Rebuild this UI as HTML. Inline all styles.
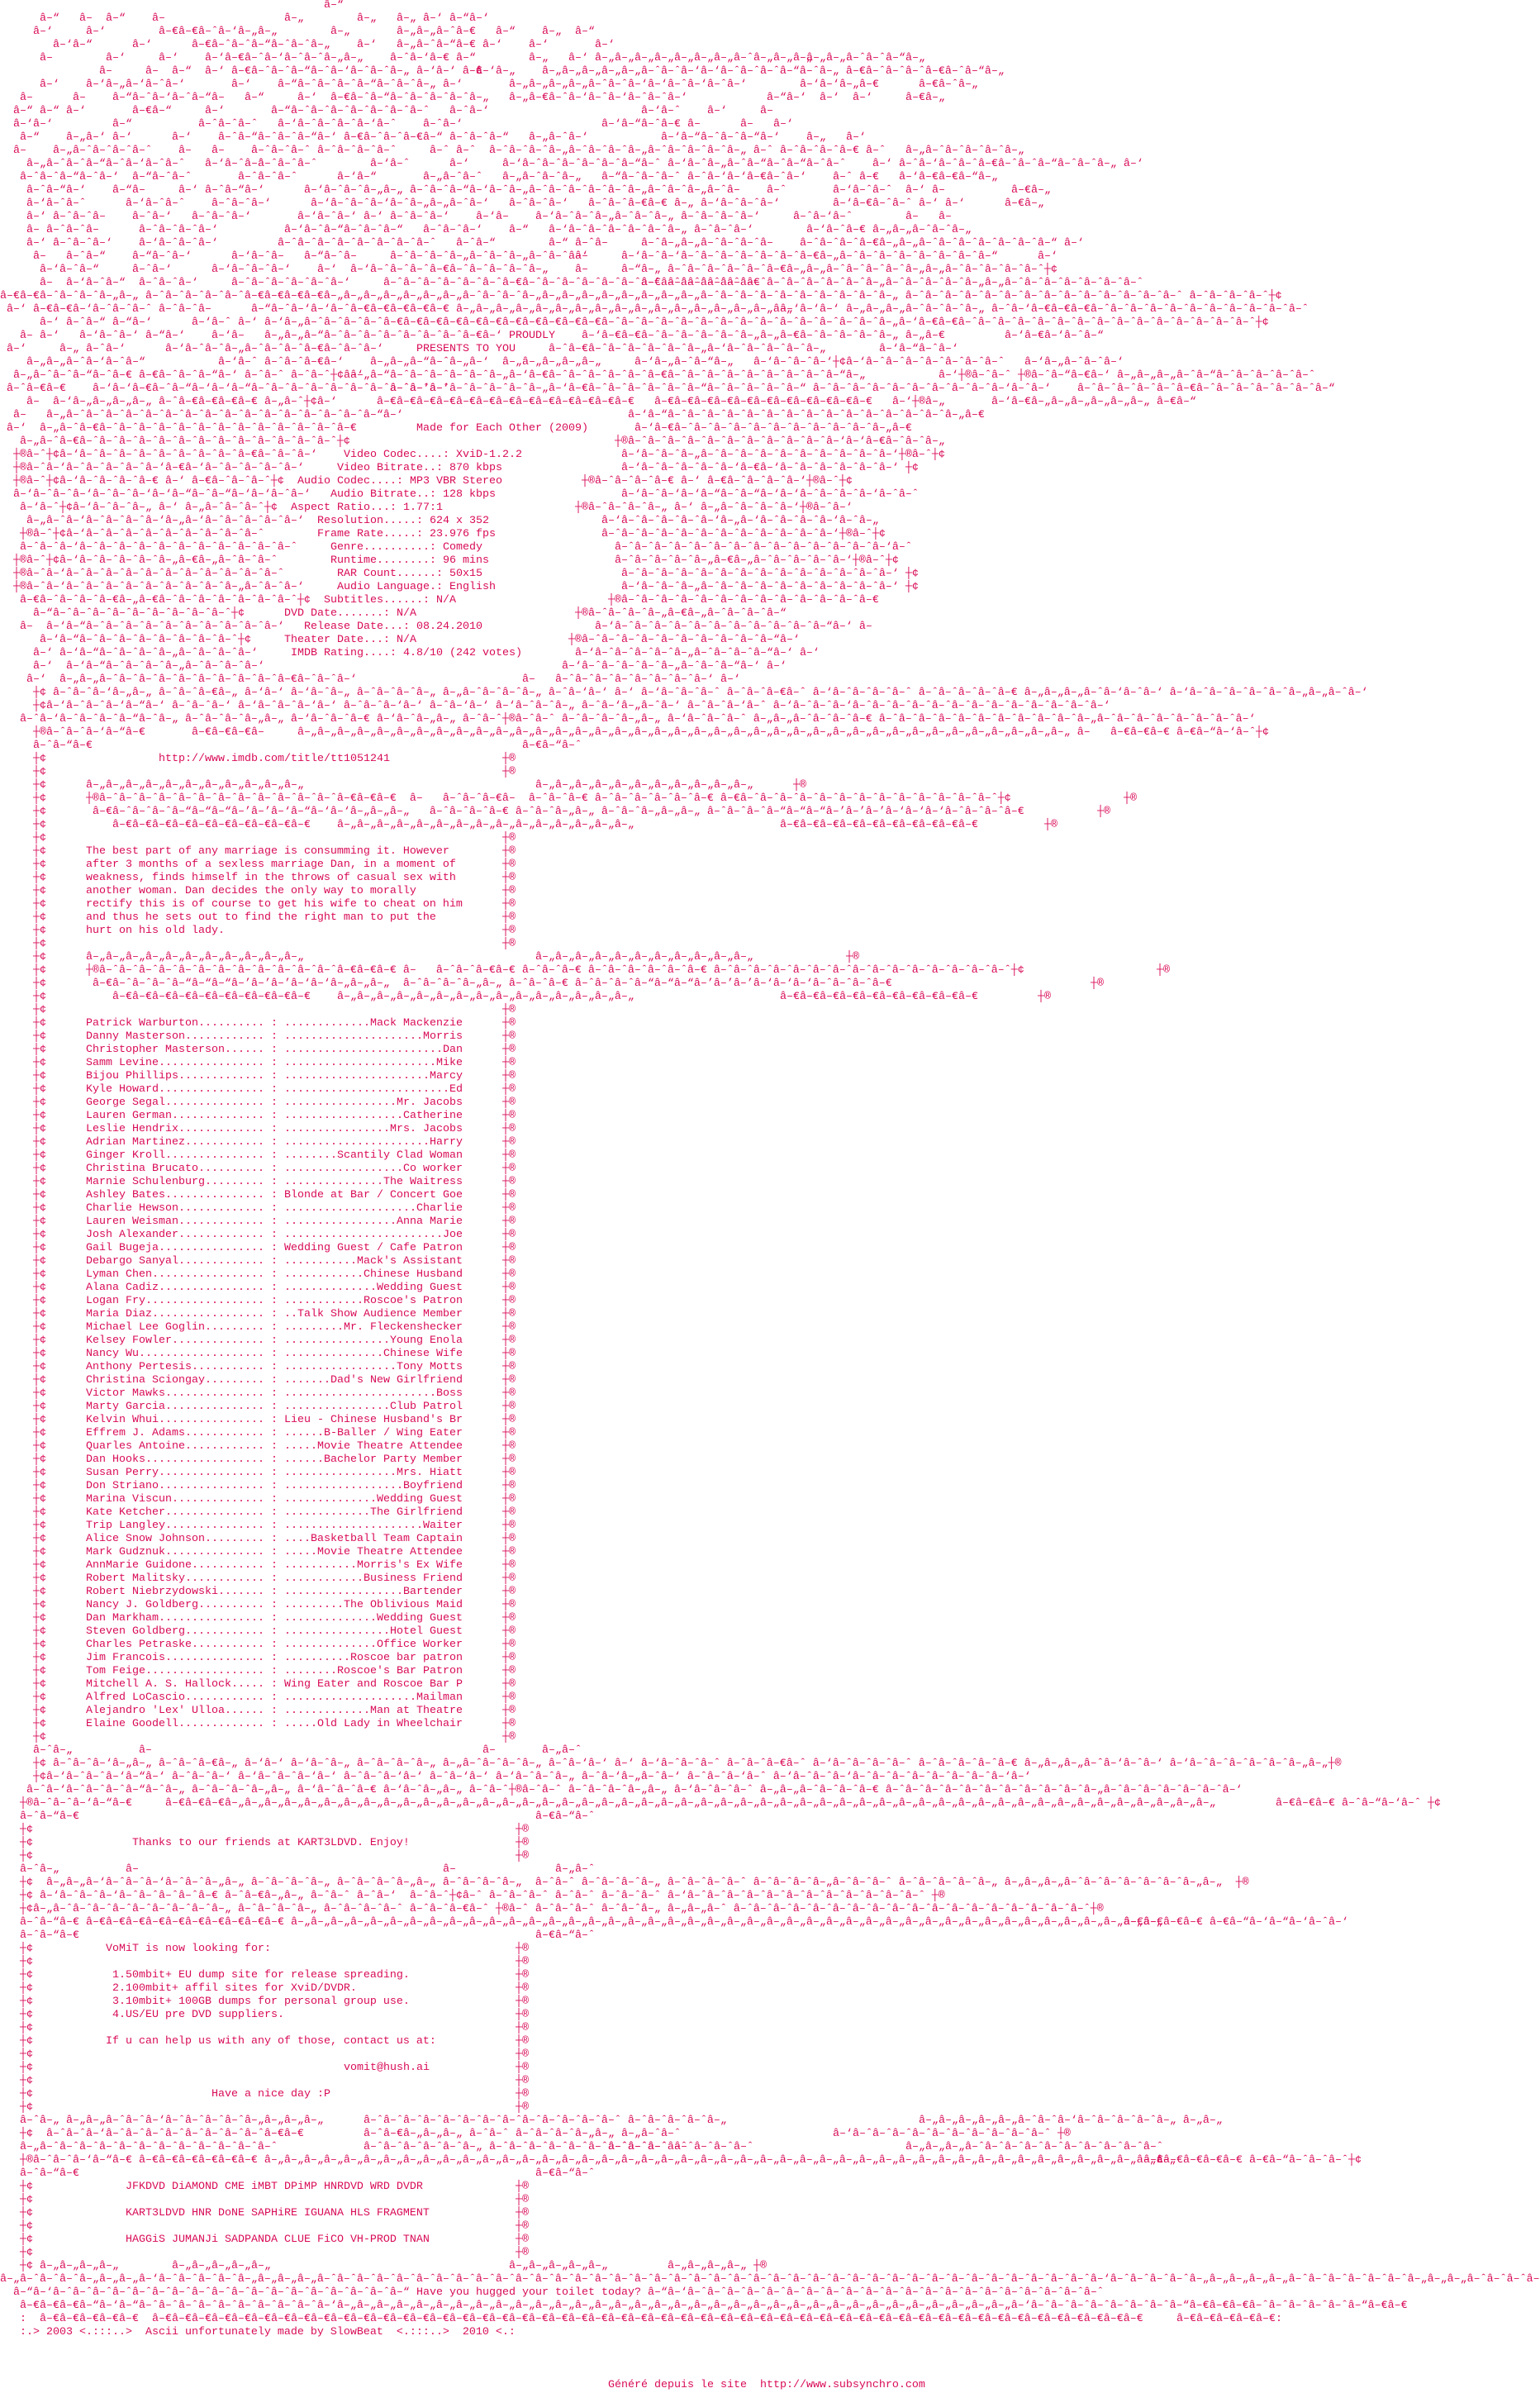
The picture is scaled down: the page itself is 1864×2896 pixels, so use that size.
<!DOCTYPE html>
<html><head><meta charset="utf-8">
<style>
html,body{margin:0;padding:0}
body{width:1864px;height:2896px;background:#fff;overflow:hidden;position:relative;font:13.333px/16px "Liberation Mono","DejaVu Sans Mono",monospace;color:#d90b57}
#c{position:absolute;left:0;top:-1px;width:1864px}
p{position:absolute;margin:0;left:0;height:16px;white-space:pre}
b{position:absolute;top:0;font-weight:normal;white-space:pre}
.n{display:inline-block;width:216px;overflow:hidden;vertical-align:top}
.r{display:inline-flex;width:216px;overflow:hidden;vertical-align:top}
.r i{flex:1;min-width:0;overflow:hidden;font-style:normal}
#g{position:absolute;left:736px;top:2879px;white-space:pre}
</style></head><body><div id="c">
<p style="top:0px"><b style="left:392px">â–“</b></p>
<p style="top:16px"><b style="left:48px">â–“</b><b style="left:96px">â–</b><b style="left:128px">â–“</b><b style="left:184px">â–</b><b style="left:344px">â–„</b><b style="left:432px">â–„</b><b style="left:480px">â–„ â–‘ â–“â–‘</b></p>
<p style="top:32px"><b style="left:40px">â–‘</b><b style="left:104px">â–‘</b><b style="left:192px">â–€â–€â–ˆâ–‘â–„â–„</b><b style="left:400px">â–„</b><b style="left:480px">â–„â–„â–ˆâ–€</b><b style="left:600px">â–“</b><b style="left:656px">â–„</b><b style="left:696px">â–“</b></p>
<p style="top:48px"><b style="left:64px">â–‘â–“</b><b style="left:160px">â–‘</b><b style="left:232px">â–€â–ˆâ–ˆâ–“â–ˆâ–ˆâ–„</b><b style="left:432px">â–‘</b><b style="left:480px">â–„â–ˆâ–“â–€ â–‘</b><b style="left:640px">â–‘</b><b style="left:720px">â–‘</b></p>
<p style="top:64px"><b style="left:48px">â–</b><b style="left:128px">â–‘</b><b style="left:192px">â–‘</b><b style="left:248px">â–‘â–€â–ˆâ–‘â–ˆâ–ˆâ–„â–„</b><b style="left:472px">â–ˆâ–‘â–€ â–“</b><b style="left:640px">â–„</b><b style="left:688px">â–‘ â–„â–„â–„â–„â–„â–„â–„â–ˆâ–„â–„â–„</b><b style="left:976px">â–„â–„â–ˆâ–ˆâ–“â–„</b></p>
<p style="top:80px"><b style="left:120px">â–</b><b style="left:176px">â–</b><b style="left:208px">â–“</b><b style="left:248px">â–‘ â–€â–ˆâ–ˆâ–“â–ˆâ–‘â–ˆâ–ˆâ–„ â–‘â–‘ â–€</b><b style="left:576px">â–‘â–„</b><b style="left:656px">â–„â–„â–„â–„â–„â–ˆâ–ˆâ–‘â–‘â–ˆâ–ˆâ–ˆâ–“â–ˆâ–„ â–€â–ˆâ–ˆâ–ˆâ–€â–ˆâ–“â–„</b></p>
<p style="top:96px"><b style="left:48px">â–‘</b><b style="left:104px">â–‘â–„â–‘â–ˆâ–‘</b><b style="left:280px">â–‘</b><b style="left:336px">â–“â–ˆâ–ˆâ–ˆâ–“â–ˆâ–ˆâ–„ â–‘</b><b style="left:616px">â–„â–„â–„â–„â–ˆâ–ˆâ–‘â–‘â–ˆâ–‘â–ˆâ–‘</b><b style="left:968px">â–‘â–‘â–„â–€</b><b style="left:1112px">â–€â–ˆâ–„</b></p>
<p style="top:112px"><b style="left:24px">â–</b><b style="left:88px">â–</b><b style="left:136px">â–“â–ˆâ–‘â–ˆâ–“â–</b><b style="left:296px">â–“</b><b style="left:360px">â–‘</b><b style="left:400px">â–€â–ˆâ–“â–ˆâ–ˆâ–ˆâ–ˆâ–„</b><b style="left:616px">â–„â–€â–ˆâ–‘â–ˆâ–‘â–ˆâ–ˆâ–‘</b><b style="left:928px">â–“â–‘</b><b style="left:992px">â–‘</b><b style="left:1032px">â–‘</b><b style="left:1096px">â–€â–„</b></p>
<p style="top:128px"><b style="left:16px">â–“ â–“ â–‘</b><b style="left:160px">â–€â–“</b><b style="left:248px">â–‘</b><b style="left:328px">â–“â–ˆâ–ˆâ–ˆâ–ˆâ–ˆâ–ˆâ–ˆ</b><b style="left:544px">â–ˆâ–‘</b><b style="left:776px">â–‘â–ˆ</b><b style="left:856px">â–‘</b><b style="left:920px">â–</b></p>
<p style="top:144px"><b style="left:16px">â–‘â–‘</b><b style="left:136px">â–“</b><b style="left:240px">â–ˆâ–ˆâ–ˆ</b><b style="left:336px">â–‘â–ˆâ–ˆâ–ˆâ–‘â–ˆ</b><b style="left:512px">â–ˆâ–‘</b><b style="left:728px">â–‘â–“â–ˆâ–€ â–</b><b style="left:896px">â–</b><b style="left:936px">â–‘</b></p>
<p style="top:160px"><b style="left:24px">â–“</b><b style="left:80px">â–„â–‘ â–‘</b><b style="left:208px">â–‘</b><b style="left:264px">â–ˆâ–“â–ˆâ–ˆâ–“â–‘</b><b style="left:416px">â–€â–ˆâ–ˆâ–€â–“ â–ˆâ–ˆâ–“</b><b style="left:640px">â–„â–ˆâ–‘</b><b style="left:800px">â–‘â–“â–ˆâ–ˆâ–“â–‘</b><b style="left:976px">â–„</b><b style="left:1024px">â–‘</b></p>
<p style="top:176px"><b style="left:16px">â–</b><b style="left:64px">â–„â–ˆâ–ˆâ–ˆâ–ˆ</b><b style="left:216px">â–</b><b style="left:256px">â–</b><b style="left:304px">â–ˆâ–ˆâ–ˆ â–ˆâ–ˆâ–ˆâ–ˆ</b><b style="left:520px">â–ˆ â–ˆ</b><b style="left:592px">â–ˆâ–ˆâ–ˆâ–„â–ˆâ–ˆâ–ˆâ–„â–ˆâ–ˆâ–ˆâ–ˆâ–„ â–ˆ</b><b style="left:944px">â–ˆâ–ˆâ–ˆâ–€ â–ˆ</b><b style="left:1096px">â–„â–ˆâ–ˆâ–ˆâ–ˆâ–„</b></p>
<p style="top:192px"><b style="left:32px">â–„â–ˆâ–ˆâ–“â–ˆâ–‘â–ˆâ–ˆ</b><b style="left:248px">â–‘â–ˆâ–ˆ</b><b style="left:312px">â–ˆâ–ˆâ–ˆ</b><b style="left:448px">â–‘â–ˆ</b><b style="left:544px">â–‘</b><b style="left:608px">â–‘â–ˆâ–ˆâ–ˆâ–ˆâ–ˆâ–“â–ˆ</b><b style="left:808px">â–‘â–ˆâ–„â–ˆâ–“</b><b style="left:928px">â–ˆâ–“â–ˆâ–ˆ</b><b style="left:1056px">â–‘ â–ˆâ–‘â–ˆâ–ˆâ–€â–ˆâ–ˆâ–“â–ˆâ–ˆâ–„ â–‘</b></p>
<p style="top:208px"><b style="left:24px">â–ˆâ–ˆâ–“â–ˆâ–‘</b><b style="left:160px">â–“â–ˆâ–ˆ</b><b style="left:288px">â–ˆâ–ˆâ–ˆ</b><b style="left:408px">â–‘â–“</b><b style="left:512px">â–„â–ˆâ–ˆ</b><b style="left:608px">â–„â–ˆâ–ˆâ–„</b><b style="left:728px">â–“â–ˆâ–ˆâ–ˆ â–ˆâ–‘</b><b style="left:880px">â–‘â–€â–ˆâ–‘</b><b style="left:1008px">â–ˆ</b><b style="left:1040px">â–€</b><b style="left:1088px">â–‘â–€â–€â–“â–„</b></p>
<p style="top:224px"><b style="left:32px">â–ˆâ–“â–‘</b><b style="left:136px">â–“â–</b><b style="left:216px">â–‘</b><b style="left:248px">â–ˆâ–“â–‘</b><b style="left:368px">â–‘â–ˆâ–ˆâ–„â–„ â–ˆâ–ˆâ–“â–‘â–ˆâ–„â–ˆâ–ˆâ–ˆâ–ˆâ–ˆâ–„â–ˆâ–ˆâ–„â–ˆâ–</b><b style="left:928px">â–ˆ</b><b style="left:1008px">â–‘â–ˆâ–ˆ</b><b style="left:1096px">â–‘ â–</b><b style="left:1224px">â–€â–„</b></p>
<p style="top:240px"><b style="left:32px">â–‘â–ˆâ–ˆ</b><b style="left:152px">â–‘â–ˆâ–ˆ</b><b style="left:256px">â–ˆâ–ˆâ–‘</b><b style="left:376px">â–‘â–ˆâ–ˆâ–‘â–ˆâ–„â–„â–ˆâ–‘</b><b style="left:616px">â–ˆâ–ˆâ–‘</b><b style="left:712px">â–ˆâ–ˆâ–€â–€ â–„ â–‘â–ˆâ–ˆâ–‘</b><b style="left:1008px">â–‘â–€â–ˆâ–ˆ â–‘ â–‘</b><b style="left:1216px">â–€â–„</b></p>
<p style="top:256px"><b style="left:32px">â–‘ â–ˆâ–ˆâ–</b><b style="left:160px">â–ˆâ–‘</b><b style="left:232px">â–ˆâ–ˆâ–‘</b><b style="left:360px">â–‘â–ˆâ–‘ â–‘</b><b style="left:472px">â–ˆâ–ˆâ–‘</b><b style="left:576px">â–‘â–</b><b style="left:648px">â–‘â–ˆâ–ˆâ–„â–ˆâ–ˆâ–„ â–ˆâ–ˆâ–ˆâ–‘</b><b style="left:960px">â–ˆâ–‘â–ˆ</b><b style="left:1096px">â–</b><b style="left:1136px">â–</b></p>
<p style="top:272px"><b style="left:32px">â– â–ˆâ–ˆâ–</b><b style="left:168px">â–ˆâ–ˆâ–ˆâ–‘</b><b style="left:344px">â–‘â–ˆâ–“â–ˆâ–ˆâ–“</b><b style="left:512px">â–ˆâ–ˆâ–‘</b><b style="left:616px">â–“</b><b style="left:664px">â–‘â–ˆâ–ˆâ–ˆâ–ˆâ–ˆâ–„ â–ˆâ–ˆâ–‘</b><b style="left:976px">â–‘â–ˆâ–€ â–„â–„â–ˆâ–ˆâ–„</b></p>
<p style="top:288px"><b style="left:32px">â–‘</b><b style="left:64px">â–ˆâ–ˆâ–‘</b><b style="left:168px">â–‘â–ˆâ–ˆâ–‘</b><b style="left:336px">â–ˆâ–ˆâ–ˆâ–ˆâ–ˆâ–ˆâ–ˆâ–ˆ</b><b style="left:552px">â–ˆâ–“</b><b style="left:664px">â–“ â–ˆâ–</b><b style="left:776px">â–ˆâ–„â–„â–ˆâ–ˆâ–ˆâ–</b><b style="left:968px">â–ˆâ–ˆâ–ˆâ–€â–„â–„â–ˆâ–ˆâ–ˆâ–ˆâ–ˆâ–ˆâ–“</b><b style="left:1288px">â–‘</b></p>
<p style="top:304px"><b style="left:40px">â–</b><b style="left:80px">â–ˆâ–“</b><b style="left:160px">â–“â–ˆâ–‘</b><b style="left:280px">â–‘â–ˆâ–</b><b style="left:368px">â–“â–ˆâ–</b><b style="left:472px">â–ˆâ–ˆâ–ˆâ–„â–ˆâ–ˆâ–„â–ˆâ–ˆâ–‘</b><b style="left:696px">â–</b><b style="left:752px">â–‘â–ˆâ–‘â–ˆâ–ˆâ–ˆâ–ˆâ–ˆâ–ˆâ–€â–„â–ˆâ–ˆâ–ˆâ–ˆâ–ˆâ–ˆâ–ˆâ–“</b><b style="left:1256px">â–‘</b></p>
<p style="top:320px"><b style="left:48px">â–‘â–ˆâ–“</b><b style="left:160px">â–ˆâ–‘</b><b style="left:256px">â–‘â–ˆâ–ˆâ–‘</b><b style="left:384px">â–‘</b><b style="left:424px">â–‘â–ˆâ–ˆâ–ˆâ–€â–ˆâ–ˆâ–ˆâ–ˆâ–„</b><b style="left:696px">â–</b><b style="left:752px">â–“â–„ â–ˆâ–ˆâ–ˆâ–ˆâ–ˆâ–€â–„â–„â–ˆâ–ˆâ–ˆâ–ˆâ–„â–„â–ˆâ–ˆâ–ˆâ–ˆâ–ˆ┼¢</b></p>
<p style="top:336px"><b style="left:48px">â–</b><b style="left:80px">â–‘â–ˆâ–“</b><b style="left:168px">â–ˆâ–ˆâ–‘</b><b style="left:280px">â–ˆâ–ˆâ–ˆâ–ˆâ–ˆâ–‘</b><b style="left:464px">â–ˆâ–ˆâ–ˆâ–ˆâ–ˆâ–ˆâ–€â–ˆâ–ˆâ–ˆâ–ˆâ–ˆâ–ˆâ–ˆâ–ˆâ–ˆâ–ˆâ–ˆâ–€</b><b style="left:776px">â–€ â–ˆâ–ˆâ–ˆâ–ˆâ–ˆâ–ˆâ–ˆâ–ˆâ–ˆâ–ˆâ–„â–ˆâ–ˆâ–ˆâ–ˆâ–„â–„â–ˆâ–ˆâ–ˆâ–ˆâ–ˆâ–ˆâ–ˆ</b></p>
<p style="top:352px"><b style="left:0px">â–€â–€â–ˆâ–ˆâ–ˆâ–„â–„ â–ˆâ–ˆâ–ˆâ–ˆâ–ˆâ–€â–€â–€â–€â–„â–„â–„â–„â–„â–„â–„â–ˆâ–ˆâ–ˆâ–„â–„â–„â–„â–„â–„â–„â–„â–„â–ˆâ–ˆâ–ˆâ–ˆâ–ˆâ–ˆâ–ˆâ–ˆâ–ˆâ–„ â–ˆâ–ˆâ–ˆâ–ˆâ–ˆâ–ˆâ–ˆâ–ˆâ–ˆâ–ˆâ–ˆâ–ˆâ–ˆâ–ˆ â–ˆâ–ˆâ–ˆâ–ˆ┼¢</b></p>
<p style="top:368px"><b style="left:8px">â–‘ â–€â–€â–‘â–ˆâ–ˆâ–ˆ â–ˆâ–ˆâ–</b><b style="left:304px">â–“â–ˆâ–‘â–‘</b><b style="left:400px">â–ˆâ–€â–€â–€â–€â–€ â–„â–„â–„â–„â–„â–„â–„â–„â–„â–„â–„â–„â–„â–„â–„â–„â–„</b><b style="left:944px">â–‘â–‘â–‘ â–„â–„â–„â–ˆâ–ˆâ–ˆâ–„ â–ˆâ–‘â–€â–€â–€â–ˆâ–ˆâ–ˆâ–ˆâ–ˆâ–ˆâ–ˆâ–ˆâ–ˆâ–ˆâ–ˆ</b></p>
<p style="top:384px"><b style="left:48px">â–‘ â–ˆâ–“ â–“â–‘</b><b style="left:232px">â–‘â–ˆ â–‘ â–‘â–„â–ˆâ–ˆâ–ˆâ–ˆâ–€â–€â–€â–€â–€â–€â–€â–€â–€â–€â–€â–ˆâ–ˆâ–ˆâ–ˆâ–ˆâ–ˆâ–ˆâ–ˆâ–ˆâ–ˆâ–ˆâ–ˆâ–ˆâ–ˆâ–„â–‘â–€â–€â–ˆâ–ˆâ–ˆâ–ˆâ–ˆâ–ˆâ–ˆâ–ˆâ–ˆâ–ˆâ–ˆâ–ˆâ–ˆâ–ˆâ–ˆ┼¢</b></p>
<p style="top:400px"><b style="left:24px">â– â–‘</b><b style="left:96px">â–‘â–ˆâ–‘ â–“â–‘</b><b style="left:256px">â–‘â–</b><b style="left:320px">â–„â–„â–“â–ˆâ–ˆâ–ˆâ–ˆâ–ˆâ–ˆâ–ˆâ–€â–‘</b><b style="left:616px">PROUDLY</b><b style="left:704px">â–‘â–€â–€â–ˆâ–ˆâ–ˆâ–ˆâ–ˆâ–„â–„â–€â–ˆâ–ˆâ–ˆâ–ˆâ–„ â–„â–€</b><b style="left:1216px">â–‘â–€â–‘â–ˆâ–“</b></p>
<p style="top:416px"><b style="left:8px">â–‘</b><b style="left:72px">â–„ â–ˆâ–‘</b><b style="left:200px">â–‘â–ˆâ–ˆâ–„â–ˆâ–ˆâ–ˆâ–€â–ˆâ–ˆâ–‘</b><b style="left:504px">PRESENTS TO YOU</b><b style="left:664px">â–ˆâ–€â–ˆâ–ˆâ–ˆâ–ˆâ–ˆâ–„â–‘â–ˆâ–ˆâ–ˆâ–ˆâ–„</b><b style="left:1064px">â–‘â–“â–ˆâ–‘</b></p>
<p style="top:432px"><b style="left:32px">â–„â–„â–ˆâ–‘â–ˆâ–“</b><b style="left:264px">â–‘â–ˆ â–ˆâ–ˆâ–€â–‘</b><b style="left:448px">â–„â–„â–“â–ˆâ–„â–‘</b><b style="left:608px">â–„â–„â–„â–„â–„</b><b style="left:768px">â–‘â–„â–ˆâ–“â–„</b><b style="left:912px">â–‘â–ˆâ–ˆâ–‘┼¢â–‘â–ˆâ–ˆâ–ˆâ–ˆâ–ˆâ–ˆâ–ˆ</b><b style="left:1240px">â–‘â–„â–ˆâ–ˆâ–‘</b></p>
<p style="top:448px"><b style="left:16px">â–„â–ˆâ–ˆâ–“â–ˆâ–€ â–€â–ˆâ–ˆâ–“â–‘</b><b style="left:296px">â–ˆâ–ˆ â–ˆâ–ˆ┼¢â–‘</b><b style="left:424px">â–„â–“â–ˆâ–ˆâ–ˆâ–ˆâ–ˆâ–„â–‘â–€â–ˆâ–ˆâ–ˆâ–ˆâ–ˆâ–€â–ˆâ–ˆâ–ˆâ–ˆâ–ˆâ–ˆâ–ˆâ–ˆâ–“â–„</b><b style="left:1136px">â–‘┼®â–ˆâ–ˆ</b><b style="left:1232px">┼®â–ˆâ–“â–€â–‘</b><b style="left:1352px">â–„â–„â–„â–ˆâ–“â–ˆâ–ˆâ–ˆâ–ˆâ–ˆ</b></p>
<p style="top:464px"><b style="left:8px">â–ˆâ–€â–€</b><b style="left:112px">â–‘â–‘â–€â–ˆâ–“â–‘â–‘â–“â–ˆâ–ˆâ–ˆâ–ˆâ–ˆâ–ˆâ–ˆâ–ˆâ–ˆâ–‘</b><b style="left:472px">â–ˆâ–‘â–ˆâ–ˆâ–ˆâ–ˆâ–ˆâ–„â–‘â–€â–ˆâ–ˆâ–ˆâ–ˆâ–ˆâ–“â–ˆâ–ˆâ–ˆâ–ˆâ–“ â–ˆâ–ˆâ–ˆâ–ˆâ–ˆâ–ˆâ–ˆâ–ˆâ–ˆ</b><b style="left:1200px">â–‘â–ˆâ–‘</b><b style="left:1304px">â–ˆâ–ˆâ–ˆâ–ˆâ–ˆâ–€â–ˆâ–ˆâ–ˆâ–ˆâ–ˆâ–ˆâ–“</b></p>
<p style="top:480px"><b style="left:32px">â–</b><b style="left:64px">â–‘â–„â–„â–„â–„ â–ˆâ–€â–€â–€â–€ â–„â–ˆ┼¢â–‘</b><b style="left:456px">â–€â–€â–€â–€â–€â–€â–€â–€â–€â–€â–€â–€</b><b style="left:744px">â–€</b><b style="left:792px">â–€â–€â–€â–€â–€â–€â–€â–€â–€â–€â–€</b><b style="left:1080px">â–‘┼®â–„</b><b style="left:1200px">â–‘â–€â–„â–„â–„â–„â–„â–„ â–€â–“</b></p>
<p style="top:496px"><b style="left:16px">â–</b><b style="left:56px">â–„â–ˆâ–ˆâ–ˆâ–ˆâ–ˆâ–ˆâ–ˆâ–ˆâ–ˆâ–ˆâ–ˆâ–ˆâ–ˆâ–ˆâ–ˆâ–“â–‘</b><b style="left:760px">â–‘â–“â–ˆâ–ˆâ–ˆâ–ˆâ–ˆâ–ˆâ–ˆâ–ˆâ–ˆâ–ˆâ–ˆâ–ˆâ–ˆâ–ˆâ–„â–€</b></p>
<p style="top:512px"><b style="left:8px">â–‘</b><b style="left:48px">â–„â–ˆâ–€â–ˆâ–ˆâ–ˆâ–ˆâ–ˆâ–ˆâ–ˆâ–ˆâ–ˆâ–ˆâ–ˆâ–ˆâ–€</b><b style="left:504px">Made for Each Other (2009)</b><b style="left:768px">â–‘â–€â–ˆâ–ˆâ–ˆâ–ˆâ–ˆâ–ˆâ–ˆâ–ˆâ–ˆâ–ˆâ–„â–€</b></p>
<p style="top:528px"><b style="left:24px">â–„â–ˆâ–€â–ˆâ–ˆâ–ˆâ–ˆâ–ˆâ–ˆâ–ˆâ–ˆâ–ˆâ–ˆâ–ˆâ–ˆâ–ˆ┼¢</b><b style="left:744px">┼®â–ˆâ–ˆâ–ˆâ–ˆâ–ˆâ–ˆâ–ˆâ–ˆâ–ˆâ–ˆâ–‘â–‘â–€â–ˆâ–ˆâ–„</b></p>
<p style="top:544px"><b style="left:16px">┼®â–ˆ┼¢â–‘â–ˆâ–ˆâ–ˆâ–ˆâ–ˆâ–ˆâ–ˆâ–ˆâ–€â–ˆâ–ˆâ–‘</b><b style="left:416px">Video Codec....: XviD-1.2.2</b><b style="left:752px">â–‘â–ˆâ–ˆâ–„â–ˆâ–ˆâ–ˆâ–ˆâ–ˆâ–ˆâ–ˆâ–ˆâ–ˆâ–‘┼®â–ˆ┼¢</b></p>
<p style="top:560px"><b style="left:16px">┼®â–ˆâ–‘â–ˆâ–ˆâ–ˆâ–ˆâ–‘â–€â–‘â–ˆâ–ˆâ–ˆâ–ˆâ–‘</b><b style="left:408px">Video Bitrate..: 870 kbps</b><b style="left:752px">â–‘â–ˆâ–ˆâ–ˆâ–ˆâ–‘â–€â–‘â–ˆâ–ˆâ–ˆâ–ˆâ–ˆâ–‘ ┼¢</b></p>
<p style="top:576px"><b style="left:16px">┼®â–ˆ┼¢â–‘â–ˆâ–ˆâ–ˆâ–€ â–‘ â–€â–ˆâ–ˆâ–ˆ┼¢</b><b style="left:360px">Audio Codec....: MP3 VBR Stereo</b><b style="left:704px">┼®â–ˆâ–ˆâ–ˆâ–€ â–‘ â–€â–ˆâ–ˆâ–ˆâ–‘┼®â–ˆ┼¢</b></p>
<p style="top:592px"><b style="left:16px">â–‘â–ˆâ–ˆâ–‘â–ˆâ–ˆâ–‘â–‘â–“â–ˆâ–“â–‘â–‘â–ˆâ–‘</b><b style="left:400px">Audio Bitrate..: 128 kbps</b><b style="left:752px">â–‘â–ˆâ–‘â–‘â–“â–ˆâ–“â–‘â–‘â–ˆâ–ˆâ–ˆâ–‘â–ˆâ–ˆ</b></p>
<p style="top:608px"><b style="left:24px">â–‘â–ˆ┼¢â–‘â–ˆâ–ˆâ–„ â–‘ â–„â–ˆâ–ˆâ–ˆ┼¢</b><b style="left:352px">Aspect Ratio...: 1.77:1</b><b style="left:696px">┼®â–ˆâ–ˆâ–ˆâ–„ â–‘ â–„â–ˆâ–ˆâ–ˆâ–‘┼®â–ˆâ–‘</b></p>
<p style="top:624px"><b style="left:32px">â–„â–ˆâ–‘â–ˆâ–ˆâ–ˆâ–‘â–„â–‘â–ˆâ–ˆâ–ˆâ–ˆâ–‘</b><b style="left:384px">Resolution.....: 624 x 352</b><b style="left:728px">â–‘â–ˆâ–ˆâ–ˆâ–ˆâ–‘â–„â–‘â–ˆâ–ˆâ–ˆâ–‘â–ˆâ–„</b></p>
<p style="top:640px"><b style="left:24px">┼®â–ˆ┼¢â–‘â–ˆâ–ˆâ–ˆâ–ˆâ–ˆâ–ˆâ–ˆâ–ˆâ–ˆ</b><b style="left:384px">Frame Rate.....: 23.976 fps</b><b style="left:728px">â–ˆâ–ˆâ–ˆâ–ˆâ–ˆâ–ˆâ–ˆâ–ˆâ–ˆâ–ˆâ–ˆâ–‘┼®â–ˆ┼¢</b></p>
<p style="top:656px"><b style="left:24px">â–ˆâ–ˆâ–‘â–ˆâ–ˆâ–ˆâ–ˆâ–ˆâ–ˆâ–ˆâ–ˆâ–ˆâ–ˆâ–ˆ</b><b style="left:400px">Genre..........: Comedy</b><b style="left:744px">â–ˆâ–ˆâ–ˆâ–ˆâ–ˆâ–ˆâ–ˆâ–ˆâ–ˆâ–ˆâ–ˆâ–ˆâ–ˆâ–‘â–ˆ</b></p>
<p style="top:672px"><b style="left:16px">┼®â–ˆ┼¢â–‘â–ˆâ–ˆâ–ˆâ–ˆâ–„â–€â–„â–ˆâ–ˆâ–ˆ</b><b style="left:400px">Runtime........: 96 mins</b><b style="left:744px">â–ˆâ–ˆâ–ˆâ–ˆâ–„â–€â–„â–ˆâ–ˆâ–ˆâ–ˆâ–‘┼®â–ˆ┼¢</b></p>
<p style="top:688px"><b style="left:16px">┼®â–ˆâ–‘â–ˆâ–ˆâ–ˆâ–ˆâ–ˆâ–ˆâ–ˆâ–ˆâ–ˆâ–ˆâ–ˆ</b><b style="left:408px">RAR Count......: 50x15</b><b style="left:752px">â–ˆâ–ˆâ–ˆâ–ˆâ–ˆâ–ˆâ–ˆâ–ˆâ–ˆâ–ˆâ–ˆâ–ˆâ–ˆâ–‘ ┼¢</b></p>
<p style="top:704px"><b style="left:16px">┼®â–ˆâ–‘â–ˆâ–ˆâ–ˆâ–ˆâ–ˆâ–ˆâ–ˆâ–ˆâ–„â–ˆâ–ˆâ–‘</b><b style="left:408px">Audio Language.: English</b><b style="left:752px">â–‘â–ˆâ–ˆâ–„â–ˆâ–ˆâ–ˆâ–ˆâ–ˆâ–ˆâ–ˆâ–ˆâ–ˆâ–‘ ┼¢</b></p>
<p style="top:720px"><b style="left:24px">â–€â–ˆâ–ˆâ–ˆâ–€â–„â–€â–ˆâ–ˆâ–ˆâ–ˆâ–ˆâ–ˆâ–ˆ┼¢</b><b style="left:392px">Subtitles......: N/A</b><b style="left:736px">┼®â–ˆâ–ˆâ–ˆâ–ˆâ–ˆâ–ˆâ–ˆâ–ˆâ–ˆâ–ˆâ–ˆâ–ˆâ–€</b></p>
<p style="top:736px"><b style="left:40px">â–“â–ˆâ–ˆâ–ˆâ–ˆâ–ˆâ–ˆâ–ˆâ–ˆâ–ˆ┼¢</b><b style="left:344px">DVD Date.......: N/A</b><b style="left:696px">┼®â–ˆâ–ˆâ–ˆâ–„â–€â–„â–ˆâ–ˆâ–ˆâ–“</b></p>
<p style="top:752px"><b style="left:24px">â–  â–‘â–“â–ˆâ–ˆâ–ˆâ–ˆâ–ˆâ–ˆâ–ˆâ–ˆâ–ˆâ–‘</b><b style="left:368px">Release Date...: 08.24.2010</b><b style="left:720px">â–‘â–ˆâ–ˆâ–ˆâ–ˆâ–ˆâ–ˆâ–ˆâ–ˆâ–ˆâ–ˆâ–“â–‘ â–</b></p>
<p style="top:768px"><b style="left:48px">â–‘â–“â–ˆâ–ˆâ–ˆâ–ˆâ–ˆâ–ˆâ–ˆâ–ˆ┼¢</b><b style="left:344px">Theater Date...: N/A</b><b style="left:688px">┼®â–ˆâ–ˆâ–ˆâ–ˆâ–ˆâ–ˆâ–ˆâ–ˆâ–ˆâ–“â–‘</b></p>
<p style="top:784px"><b style="left:40px">â–‘ â–‘â–“â–ˆâ–ˆâ–ˆâ–„â–ˆâ–ˆâ–ˆâ–‘</b><b style="left:352px">IMDB Rating....: 4.8/10 (242 votes)</b><b style="left:696px">â–‘â–ˆâ–ˆâ–ˆâ–ˆâ–„â–ˆâ–ˆâ–ˆâ–“â–‘ â–‘</b></p>
<p style="top:800px"><b style="left:40px">â–‘  â–‘â–“â–ˆâ–ˆâ–ˆâ–„â–ˆâ–ˆâ–ˆâ–‘</b><b style="left:680px">â–‘â–ˆâ–ˆâ–ˆâ–ˆâ–„â–ˆâ–ˆâ–“â–‘ â–‘</b></p>
<p style="top:816px"><b style="left:32px">â–‘</b><b style="left:72px">â–„â–„â–ˆâ–ˆâ–ˆâ–ˆâ–ˆâ–ˆâ–ˆâ–ˆâ–ˆâ–€â–ˆâ–ˆâ–‘</b><b style="left:632px">â–</b><b style="left:672px">â–ˆâ–ˆâ–ˆâ–ˆâ–ˆâ–ˆâ–ˆâ–‘ â–‘</b></p>
<p style="top:832px"><b style="left:40px">┼¢ â–ˆâ–ˆâ–‘â–„â–„ â–ˆâ–ˆâ–€â–„ â–‘â–‘ â–‘â–ˆâ–„ â–ˆâ–ˆâ–ˆâ–„ â–„â–ˆâ–ˆâ–ˆâ–„ â–ˆâ–‘â–‘ â–‘ â–‘â–ˆâ–ˆâ–ˆ â–ˆâ–ˆâ–€â–ˆ â–‘â–ˆâ–ˆâ–ˆâ–ˆ â–ˆâ–ˆâ–ˆâ–ˆâ–€ â–„â–„â–„â–ˆâ–‘â–ˆâ–‘ â–‘â–ˆâ–ˆâ–ˆâ–ˆâ–ˆâ–„â–„â–ˆâ–‘</b></p>
<p style="top:848px"><b style="left:40px">┼¢â–‘â–ˆâ–ˆâ–‘â–“â–‘ â–ˆâ–ˆâ–‘ â–‘â–ˆâ–ˆâ–‘â–‘ â–ˆâ–ˆâ–‘â–‘ â–ˆâ–‘â–‘ â–‘â–ˆâ–ˆâ–„ â–ˆâ–‘â–„â–ˆâ–‘ â–ˆâ–ˆâ–‘â–ˆ â–‘â–ˆâ–ˆâ–‘â–ˆâ–ˆâ–ˆâ–ˆâ–ˆâ–ˆâ–ˆâ–ˆâ–ˆâ–ˆâ–ˆâ–ˆâ–‘</b></p>
<p style="top:864px"><b style="left:24px">â–ˆâ–‘â–ˆâ–ˆâ–ˆâ–“â–ˆâ–„ â–ˆâ–ˆâ–ˆâ–„â–„ â–‘â–ˆâ–ˆâ–€ â–‘â–ˆâ–„â–„ â–ˆâ–ˆ┼®â–ˆâ–ˆ â–ˆâ–ˆâ–ˆâ–„â–„ â–‘â–ˆâ–ˆâ–ˆ â–„â–„â–ˆâ–ˆâ–ˆâ–€ â–ˆâ–ˆâ–ˆâ–ˆâ–ˆâ–ˆâ–ˆâ–ˆâ–ˆâ–ˆâ–„â–ˆâ–ˆâ–ˆâ–ˆâ–ˆâ–ˆâ–ˆâ–‘</b></p>
<p style="top:880px"><b style="left:40px">┼®â–ˆâ–ˆâ–‘â–“â–€</b><b style="left:232px">â–€â–€â–€</b><b style="left:304px">â–</b><b style="left:360px">â–„â–„â–„â–„â–„â–„â–„â–„â–„â–„â–„â–„â–„â–„â–„â–„â–„â–„â–„â–„â–„â–„â–„â–„â–„â–„â–„â–„â–„â–„â–„â–„â–„â–„â–„â–„â–„â–„â–„ â–</b><b style="left:1344px">â–€â–€â–€ â–€â–“â–‘â–ˆ┼¢</b></p>
<p style="top:896px"><b style="left:40px">â–ˆâ–“â–€</b><b style="left:632px">â–€â–“â–ˆ</b></p>
<p style="top:912px"><b style="left:40px">┼¢</b><b style="left:192px">http://www.imdb.com/title/tt1051241</b><b style="left:608px">┼®</b></p>
<p style="top:928px"><b style="left:40px">┼¢</b><b style="left:608px">┼®</b></p>
<p style="top:944px"><b style="left:40px">┼¢</b><b style="left:104px">â–„â–„â–„â–„â–„â–„â–„â–„â–„â–„â–„</b><b style="left:648px">â–„â–„â–„â–„â–„â–„â–„â–„â–„â–„â–„</b><b style="left:960px">┼®</b></p>
<p style="top:960px"><b style="left:40px">┼¢</b><b style="left:104px">┼®â–ˆâ–ˆâ–ˆâ–ˆâ–ˆâ–ˆâ–ˆâ–ˆâ–ˆâ–ˆâ–ˆâ–ˆâ–€â–€â–€  â–   â–ˆâ–ˆâ–€â–  â–ˆâ–ˆâ–€ â–ˆâ–ˆâ–ˆâ–ˆâ–ˆâ–€ â–€â–ˆâ–ˆâ–ˆâ–ˆâ–ˆâ–ˆâ–ˆâ–ˆâ–ˆâ–ˆâ–ˆâ–ˆâ–ˆ┼¢</b><b style="left:1360px">┼®</b></p>
<p style="top:976px"><b style="left:40px">┼¢</b><b style="left:112px">â–€â–ˆâ–ˆâ–ˆâ–“â–“â–“â–’â–’â–‘â–“â–‘â–‘â–„â–„â–„   â–ˆâ–ˆâ–ˆâ–€ â–ˆâ–ˆâ–„â–„ â–ˆâ–ˆâ–„â–„â–„ â–ˆâ–ˆâ–ˆâ–“â–“â–“â–’â–’â–’â–‘â–‘â–‘â–ˆâ–ˆâ–ˆâ–€</b><b style="left:1328px">┼®</b></p>
<p style="top:992px"><b style="left:40px">┼¢</b><b style="left:136px">â–€â–€â–€â–€â–€â–€â–€â–€â–€â–€</b><b style="left:408px">â–„â–„â–„â–„â–„â–„â–„â–„â–„â–„â–„â–„â–„â–„â–„</b><b style="left:944px">â–€â–€â–€â–€â–€â–€â–€â–€â–€â–€</b><b style="left:1264px">┼®</b></p>
<p style="top:1008px"><b style="left:40px">┼¢</b><b style="left:608px">┼®</b></p>
<p style="top:1024px"><b style="left:40px">┼¢</b><b style="left:104px">The best part of any marriage is consumming it. However</b><b style="left:608px">┼®</b></p>
<p style="top:1040px"><b style="left:40px">┼¢</b><b style="left:104px">after 3 months of a sexless marriage Dan, in a moment of</b><b style="left:608px">┼®</b></p>
<p style="top:1056px"><b style="left:40px">┼¢</b><b style="left:104px">weakness, finds himself in the throws of casual sex with</b><b style="left:608px">┼®</b></p>
<p style="top:1072px"><b style="left:40px">┼¢</b><b style="left:104px">another woman. Dan decides the only way to morally</b><b style="left:608px">┼®</b></p>
<p style="top:1088px"><b style="left:40px">┼¢</b><b style="left:104px">rectify this is of course to get his wife to cheat on him</b><b style="left:608px">┼®</b></p>
<p style="top:1104px"><b style="left:40px">┼¢</b><b style="left:104px">and thus he sets out to find the right man to put the</b><b style="left:608px">┼®</b></p>
<p style="top:1120px"><b style="left:40px">┼¢</b><b style="left:104px">hurt on his old lady.</b><b style="left:608px">┼®</b></p>
<p style="top:1136px"><b style="left:40px">┼¢</b><b style="left:608px">┼®</b></p>
<p style="top:1152px"><b style="left:40px">┼¢</b><b style="left:104px">â–„â–„â–„â–„â–„â–„â–„â–„â–„â–„â–„</b><b style="left:648px">â–„â–„â–„â–„â–„â–„â–„â–„â–„â–„â–„</b><b style="left:1024px">┼®</b></p>
<p style="top:1168px"><b style="left:40px">┼¢</b><b style="left:104px">┼®â–ˆâ–ˆâ–ˆâ–ˆâ–ˆâ–ˆâ–ˆâ–ˆâ–ˆâ–ˆâ–ˆâ–ˆâ–€â–€â–€ â–   â–ˆâ–ˆâ–€â–€ â–ˆâ–ˆâ–€ â–ˆâ–ˆâ–ˆâ–ˆâ–ˆâ–€ â–ˆâ–ˆâ–ˆâ–ˆâ–ˆâ–ˆâ–ˆâ–ˆâ–ˆâ–ˆâ–ˆâ–ˆâ–ˆâ–ˆâ–ˆ┼¢</b><b style="left:1400px">┼®</b></p>
<p style="top:1184px"><b style="left:40px">┼¢</b><b style="left:112px">â–€â–ˆâ–ˆâ–ˆâ–“â–“â–“â–’â–’â–’â–‘â–‘â–„â–„â–„  â–ˆâ–ˆâ–ˆâ–„â–„ â–ˆâ–ˆâ–€ â–ˆâ–ˆâ–ˆâ–“â–“â–“â–’â–’â–’â–‘â–‘â–‘â–ˆâ–ˆâ–ˆâ–€</b><b style="left:1320px">┼®</b></p>
<p style="top:1200px"><b style="left:40px">┼¢</b><b style="left:136px">â–€â–€â–€â–€â–€â–€â–€â–€â–€â–€</b><b style="left:408px">â–„â–„â–„â–„â–„â–„â–„â–„â–„â–„â–„â–„â–„â–„â–„</b><b style="left:944px">â–€â–€â–€â–€â–€â–€â–€â–€â–€â–€</b><b style="left:1256px">┼®</b></p>
<p style="top:1216px"><b style="left:40px">┼¢</b><b style="left:608px">┼®</b></p>
<p style="top:1232px"><b style="left:40px">┼¢</b><b style="left:104px"><span class="n">Patrick Warburton............................</span> : <span class="r"><i>.............................</i>Mack Mackenzie</span></b><b style="left:608px">┼®</b></p>
<p style="top:1248px"><b style="left:40px">┼¢</b><b style="left:104px"><span class="n">Danny Masterson..............................</span> : <span class="r"><i>.............................</i>Morris</span></b><b style="left:608px">┼®</b></p>
<p style="top:1264px"><b style="left:40px">┼¢</b><b style="left:104px"><span class="n">Christopher Masterson........................</span> : <span class="r"><i>.............................</i>Dan</span></b><b style="left:608px">┼®</b></p>
<p style="top:1280px"><b style="left:40px">┼¢</b><b style="left:104px"><span class="n">Samm Levine..................................</span> : <span class="r"><i>.............................</i>Mike</span></b><b style="left:608px">┼®</b></p>
<p style="top:1296px"><b style="left:40px">┼¢</b><b style="left:104px"><span class="n">Bijou Phillips...............................</span> : <span class="r"><i>.............................</i>Marcy</span></b><b style="left:608px">┼®</b></p>
<p style="top:1312px"><b style="left:40px">┼¢</b><b style="left:104px"><span class="n">Kyle Howard..................................</span> : <span class="r"><i>.............................</i>Ed</span></b><b style="left:608px">┼®</b></p>
<p style="top:1328px"><b style="left:40px">┼¢</b><b style="left:104px"><span class="n">George Segal.................................</span> : <span class="r"><i>.............................</i>Mr. Jacobs</span></b><b style="left:608px">┼®</b></p>
<p style="top:1344px"><b style="left:40px">┼¢</b><b style="left:104px"><span class="n">Lauren German................................</span> : <span class="r"><i>.............................</i>Catherine</span></b><b style="left:608px">┼®</b></p>
<p style="top:1360px"><b style="left:40px">┼¢</b><b style="left:104px"><span class="n">Leslie Hendrix...............................</span> : <span class="r"><i>.............................</i>Mrs. Jacobs</span></b><b style="left:608px">┼®</b></p>
<p style="top:1376px"><b style="left:40px">┼¢</b><b style="left:104px"><span class="n">Adrian Martinez..............................</span> : <span class="r"><i>.............................</i>Harry</span></b><b style="left:608px">┼®</b></p>
<p style="top:1392px"><b style="left:40px">┼¢</b><b style="left:104px"><span class="n">Ginger Kroll.................................</span> : <span class="r"><i>.............................</i>Scantily Clad Woman</span></b><b style="left:608px">┼®</b></p>
<p style="top:1408px"><b style="left:40px">┼¢</b><b style="left:104px"><span class="n">Christina Brucato............................</span> : <span class="r"><i>.............................</i>Co worker</span></b><b style="left:608px">┼®</b></p>
<p style="top:1424px"><b style="left:40px">┼¢</b><b style="left:104px"><span class="n">Marnie Schulenburg...........................</span> : <span class="r"><i>.............................</i>The Waitress</span></b><b style="left:608px">┼®</b></p>
<p style="top:1440px"><b style="left:40px">┼¢</b><b style="left:104px"><span class="n">Ashley Bates.................................</span> : <span class="r"><i></i>Blonde at Bar / Concert Goe</span></b><b style="left:608px">┼®</b></p>
<p style="top:1456px"><b style="left:40px">┼¢</b><b style="left:104px"><span class="n">Charlie Hewson...............................</span> : <span class="r"><i>.............................</i>Charlie</span></b><b style="left:608px">┼®</b></p>
<p style="top:1472px"><b style="left:40px">┼¢</b><b style="left:104px"><span class="n">Lauren Weisman...............................</span> : <span class="r"><i>.............................</i>Anna Marie</span></b><b style="left:608px">┼®</b></p>
<p style="top:1488px"><b style="left:40px">┼¢</b><b style="left:104px"><span class="n">Josh Alexander...............................</span> : <span class="r"><i>.............................</i>Joe</span></b><b style="left:608px">┼®</b></p>
<p style="top:1504px"><b style="left:40px">┼¢</b><b style="left:104px"><span class="n">Gail Bugeja..................................</span> : <span class="r"><i></i>Wedding Guest / Cafe Patron</span></b><b style="left:608px">┼®</b></p>
<p style="top:1520px"><b style="left:40px">┼¢</b><b style="left:104px"><span class="n">Debargo Sanyal...............................</span> : <span class="r"><i>.............................</i>Mack's Assistant</span></b><b style="left:608px">┼®</b></p>
<p style="top:1536px"><b style="left:40px">┼¢</b><b style="left:104px"><span class="n">Lyman Chen...................................</span> : <span class="r"><i>.............................</i>Chinese Husband</span></b><b style="left:608px">┼®</b></p>
<p style="top:1552px"><b style="left:40px">┼¢</b><b style="left:104px"><span class="n">Alana Cadiz..................................</span> : <span class="r"><i>.............................</i>Wedding Guest</span></b><b style="left:608px">┼®</b></p>
<p style="top:1568px"><b style="left:40px">┼¢</b><b style="left:104px"><span class="n">Logan Fry....................................</span> : <span class="r"><i>.............................</i>Roscoe's Patron</span></b><b style="left:608px">┼®</b></p>
<p style="top:1584px"><b style="left:40px">┼¢</b><b style="left:104px"><span class="n">Maria Diaz...................................</span> : <span class="r"><i>.............................</i>Talk Show Audience Member</span></b><b style="left:608px">┼®</b></p>
<p style="top:1600px"><b style="left:40px">┼¢</b><b style="left:104px"><span class="n">Michael Lee Goglin...........................</span> : <span class="r"><i>.............................</i>Mr. Fleckenshecker</span></b><b style="left:608px">┼®</b></p>
<p style="top:1616px"><b style="left:40px">┼¢</b><b style="left:104px"><span class="n">Kelsey Fowler................................</span> : <span class="r"><i>.............................</i>Young Enola</span></b><b style="left:608px">┼®</b></p>
<p style="top:1632px"><b style="left:40px">┼¢</b><b style="left:104px"><span class="n">Nancy Wu.....................................</span> : <span class="r"><i>.............................</i>Chinese Wife</span></b><b style="left:608px">┼®</b></p>
<p style="top:1648px"><b style="left:40px">┼¢</b><b style="left:104px"><span class="n">Anthony Pertesis.............................</span> : <span class="r"><i>.............................</i>Tony Motts</span></b><b style="left:608px">┼®</b></p>
<p style="top:1664px"><b style="left:40px">┼¢</b><b style="left:104px"><span class="n">Christina Sciongay...........................</span> : <span class="r"><i>.............................</i>Dad's New Girlfriend</span></b><b style="left:608px">┼®</b></p>
<p style="top:1680px"><b style="left:40px">┼¢</b><b style="left:104px"><span class="n">Victor Mawks.................................</span> : <span class="r"><i>.............................</i>Boss</span></b><b style="left:608px">┼®</b></p>
<p style="top:1696px"><b style="left:40px">┼¢</b><b style="left:104px"><span class="n">Marty Garcia.................................</span> : <span class="r"><i>.............................</i>Club Patrol</span></b><b style="left:608px">┼®</b></p>
<p style="top:1712px"><b style="left:40px">┼¢</b><b style="left:104px"><span class="n">Kelvin Whui..................................</span> : <span class="r"><i></i>Lieu - Chinese Husband's Br</span></b><b style="left:608px">┼®</b></p>
<p style="top:1728px"><b style="left:40px">┼¢</b><b style="left:104px"><span class="n">Effrem J. Adams..............................</span> : <span class="r"><i>.............................</i>B-Baller / Wing Eater</span></b><b style="left:608px">┼®</b></p>
<p style="top:1744px"><b style="left:40px">┼¢</b><b style="left:104px"><span class="n">Quarles Antoine..............................</span> : <span class="r"><i>.............................</i>Movie Theatre Attendee</span></b><b style="left:608px">┼®</b></p>
<p style="top:1760px"><b style="left:40px">┼¢</b><b style="left:104px"><span class="n">Dan Hooks....................................</span> : <span class="r"><i>.............................</i>Bachelor Party Member</span></b><b style="left:608px">┼®</b></p>
<p style="top:1776px"><b style="left:40px">┼¢</b><b style="left:104px"><span class="n">Susan Perry..................................</span> : <span class="r"><i>.............................</i>Mrs. Hiatt</span></b><b style="left:608px">┼®</b></p>
<p style="top:1792px"><b style="left:40px">┼¢</b><b style="left:104px"><span class="n">Don Striano..................................</span> : <span class="r"><i>.............................</i>Boyfriend</span></b><b style="left:608px">┼®</b></p>
<p style="top:1808px"><b style="left:40px">┼¢</b><b style="left:104px"><span class="n">Marina Viscun................................</span> : <span class="r"><i>.............................</i>Wedding Guest</span></b><b style="left:608px">┼®</b></p>
<p style="top:1824px"><b style="left:40px">┼¢</b><b style="left:104px"><span class="n">Kate Ketcher.................................</span> : <span class="r"><i>.............................</i>The Girlfriend</span></b><b style="left:608px">┼®</b></p>
<p style="top:1840px"><b style="left:40px">┼¢</b><b style="left:104px"><span class="n">Trip Langley.................................</span> : <span class="r"><i>.............................</i>Waiter</span></b><b style="left:608px">┼®</b></p>
<p style="top:1856px"><b style="left:40px">┼¢</b><b style="left:104px"><span class="n">Alice Snow Johnson...........................</span> : <span class="r"><i>.............................</i>Basketball Team Captain</span></b><b style="left:608px">┼®</b></p>
<p style="top:1872px"><b style="left:40px">┼¢</b><b style="left:104px"><span class="n">Mark Gudznuk.................................</span> : <span class="r"><i>.............................</i>Movie Theatre Attendee</span></b><b style="left:608px">┼®</b></p>
<p style="top:1888px"><b style="left:40px">┼¢</b><b style="left:104px"><span class="n">AnnMarie Guidone.............................</span> : <span class="r"><i>.............................</i>Morris's Ex Wife</span></b><b style="left:608px">┼®</b></p>
<p style="top:1904px"><b style="left:40px">┼¢</b><b style="left:104px"><span class="n">Robert Malitsky..............................</span> : <span class="r"><i>.............................</i>Business Friend</span></b><b style="left:608px">┼®</b></p>
<p style="top:1920px"><b style="left:40px">┼¢</b><b style="left:104px"><span class="n">Robert Niebrzydowski.........................</span> : <span class="r"><i>.............................</i>Bartender</span></b><b style="left:608px">┼®</b></p>
<p style="top:1936px"><b style="left:40px">┼¢</b><b style="left:104px"><span class="n">Nancy J. Goldberg............................</span> : <span class="r"><i>.............................</i>The Oblivious Maid</span></b><b style="left:608px">┼®</b></p>
<p style="top:1952px"><b style="left:40px">┼¢</b><b style="left:104px"><span class="n">Dan Markham..................................</span> : <span class="r"><i>.............................</i>Wedding Guest</span></b><b style="left:608px">┼®</b></p>
<p style="top:1968px"><b style="left:40px">┼¢</b><b style="left:104px"><span class="n">Steven Goldberg..............................</span> : <span class="r"><i>.............................</i>Hotel Guest</span></b><b style="left:608px">┼®</b></p>
<p style="top:1984px"><b style="left:40px">┼¢</b><b style="left:104px"><span class="n">Charles Petraske.............................</span> : <span class="r"><i>.............................</i>Office Worker</span></b><b style="left:608px">┼®</b></p>
<p style="top:2000px"><b style="left:40px">┼¢</b><b style="left:104px"><span class="n">Jim Francois.................................</span> : <span class="r"><i>.............................</i>Roscoe bar patron</span></b><b style="left:608px">┼®</b></p>
<p style="top:2016px"><b style="left:40px">┼¢</b><b style="left:104px"><span class="n">Tom Feige....................................</span> : <span class="r"><i>.............................</i>Roscoe's Bar Patron</span></b><b style="left:608px">┼®</b></p>
<p style="top:2032px"><b style="left:40px">┼¢</b><b style="left:104px"><span class="n">Mitchell A. S. Hallock.......................</span> : <span class="r"><i></i>Wing Eater and Roscoe Bar P</span></b><b style="left:608px">┼®</b></p>
<p style="top:2048px"><b style="left:40px">┼¢</b><b style="left:104px"><span class="n">Alfred LoCascio..............................</span> : <span class="r"><i>.............................</i>Mailman</span></b><b style="left:608px">┼®</b></p>
<p style="top:2064px"><b style="left:40px">┼¢</b><b style="left:104px"><span class="n">Alejandro 'Lex' Ulloa........................</span> : <span class="r"><i>.............................</i>Man at Theatre</span></b><b style="left:608px">┼®</b></p>
<p style="top:2080px"><b style="left:40px">┼¢</b><b style="left:104px"><span class="n">Elaine Goodell...............................</span> : <span class="r"><i>.............................</i>Old Lady in Wheelchair</span></b><b style="left:608px">┼®</b></p>
<p style="top:2096px"><b style="left:40px">┼¢</b><b style="left:608px">┼®</b></p>
<p style="top:2112px"><b style="left:40px">â–ˆâ–„</b><b style="left:168px">â–</b><b style="left:584px">â–</b><b style="left:656px">â–„â–ˆ</b></p>
<p style="top:2128px"><b style="left:40px">┼¢ â–ˆâ–ˆâ–‘â–„â–„ â–ˆâ–ˆâ–€â–„ â–‘â–‘ â–‘â–ˆâ–„ â–ˆâ–ˆâ–ˆâ–„ â–„â–ˆâ–ˆâ–ˆâ–„ â–ˆâ–‘â–‘ â–‘ â–‘â–ˆâ–ˆâ–ˆ â–ˆâ–ˆâ–€â–ˆ â–‘â–ˆâ–ˆâ–ˆâ–ˆ â–ˆâ–ˆâ–ˆâ–ˆâ–€ â–„â–„â–„â–ˆâ–‘â–ˆâ–‘ â–‘â–ˆâ–ˆâ–ˆâ–ˆâ–ˆâ–„â–„┼®</b></p>
<p style="top:2144px"><b style="left:40px">┼¢â–‘â–ˆâ–ˆâ–‘â–“â–‘ â–ˆâ–ˆâ–‘ â–‘â–ˆâ–ˆâ–‘â–‘ â–ˆâ–ˆâ–‘â–‘ â–ˆâ–‘â–‘ â–‘â–ˆâ–ˆâ–„ â–ˆâ–‘â–„â–ˆâ–‘ â–ˆâ–ˆâ–‘â–ˆ â–‘â–ˆâ–ˆâ–‘â–ˆâ–ˆâ–ˆâ–ˆâ–ˆâ–ˆâ–ˆâ–‘â–‘</b></p>
<p style="top:2160px"><b style="left:32px">â–ˆâ–‘â–ˆâ–ˆâ–ˆâ–“â–ˆâ–„ â–ˆâ–ˆâ–ˆâ–„â–„ â–‘â–ˆâ–ˆâ–€ â–‘â–ˆâ–„â–„ â–ˆâ–ˆ┼®â–ˆâ–ˆ â–ˆâ–ˆâ–ˆâ–„â–„ â–‘â–ˆâ–ˆâ–ˆ â–„â–„â–ˆâ–ˆâ–ˆâ–€ â–ˆâ–ˆâ–ˆâ–ˆâ–ˆâ–ˆâ–ˆâ–ˆâ–ˆâ–ˆâ–„â–ˆâ–ˆâ–ˆâ–ˆâ–ˆâ–ˆâ–‘</b></p>
<p style="top:2176px"><b style="left:24px">┼®â–ˆâ–ˆâ–‘â–“â–€</b><b style="left:200px">â–€â–€â–€</b><b style="left:272px">â–„â–„â–„â–„â–„â–„â–„â–„â–„â–„â–„â–„â–„â–„â–„â–„â–„â–„â–„â–„â–„â–„â–„â–„â–„â–„â–„â–„â–„â–„â–„â–„â–„â–„â–„â–„â–„â–„â–„â–„â–„â–„â–„â–„â–„â–„â–„â–„â–„â–„</b><b style="left:1544px">â–€â–€â–€ â–ˆâ–“â–‘â–ˆ ┼¢</b></p>
<p style="top:2192px"><b style="left:24px">â–ˆâ–“â–€</b><b style="left:648px">â–€â–“â–ˆ</b></p>
<p style="top:2208px"><b style="left:24px">┼¢</b><b style="left:624px">┼®</b></p>
<p style="top:2224px"><b style="left:24px">┼¢</b><b style="left:160px">Thanks to our friends at KART3LDVD. Enjoy!</b><b style="left:624px">┼®</b></p>
<p style="top:2240px"><b style="left:24px">┼¢</b><b style="left:624px">┼®</b></p>
<p style="top:2256px"><b style="left:24px">â–ˆâ–„</b><b style="left:152px">â–</b><b style="left:536px">â–</b><b style="left:672px">â–„â–ˆ</b></p>
<p style="top:2272px"><b style="left:24px">┼¢  â–„â–„â–‘â–ˆâ–ˆâ–‘â–ˆâ–ˆâ–„â–„ â–ˆâ–ˆâ–ˆâ–„ â–ˆâ–ˆâ–ˆâ–„â–„ â–ˆâ–ˆâ–ˆâ–„  â–ˆâ–ˆ â–ˆâ–ˆâ–ˆâ–„ â–ˆâ–ˆâ–ˆâ–ˆ â–ˆâ–ˆâ–ˆâ–„â–ˆâ–ˆâ–ˆ â–ˆâ–ˆâ–ˆâ–ˆâ–„ â–„â–„â–„â–ˆâ–ˆâ–ˆâ–ˆâ–ˆâ–ˆâ–„â–„  ┼®</b></p>
<p style="top:2288px"><b style="left:24px">┼¢ â–‘â–ˆâ–ˆâ–‘â–ˆâ–ˆâ–ˆâ–ˆâ–€ â–ˆâ–€â–„â–„ â–ˆâ–ˆ â–ˆâ–‘  â–ˆâ–ˆ┼¢â–ˆ â–ˆâ–ˆâ–ˆ â–ˆâ–ˆ â–ˆâ–ˆâ–ˆ â–‘â–ˆâ–ˆâ–ˆâ–ˆâ–ˆâ–ˆâ–ˆâ–ˆâ–ˆâ–ˆâ–ˆâ–ˆ ┼®</b></p>
<p style="top:2304px"><b style="left:24px">┼¢â–„â–ˆâ–ˆâ–ˆâ–ˆâ–ˆâ–ˆâ–ˆâ–ˆâ–„ â–ˆâ–ˆâ–ˆâ–„ â–ˆâ–ˆâ–ˆâ–ˆ â–ˆâ–ˆâ–€â–ˆ ┼®â–ˆ â–ˆâ–ˆâ–ˆ â–ˆâ–ˆâ–„ â–„â–„â–ˆ â–ˆâ–ˆâ–ˆâ–ˆâ–ˆâ–ˆâ–ˆâ–ˆâ–ˆâ–ˆâ–ˆâ–ˆâ–ˆâ–ˆâ–ˆâ–ˆâ–ˆâ–ˆ┼®</b></p>
<p style="top:2320px"><b style="left:24px">â–ˆâ–“â–€ â–€â–€â–€</b><b style="left:176px">â–€â–€â–€â–€â–€â–€â–€ â–„â–„â–„â–„â–„â–„â–„â–„â–„â–„â–„â–„â–„â–„â–„â–„â–„â–„â–„â–„â–„â–„â–„â–„â–„â–„â–„â–„â–„â–„â–„â–„â–„â–„â–„â–„â–„â–„â–„â–„â–„â–„â–„â–„</b><b style="left:1360px">â–€â–€â–€â–€ â–€â–“â–‘â–“â–‘â–ˆâ–‘</b></p>
<p style="top:2336px"><b style="left:24px">â–ˆâ–“â–€</b><b style="left:648px">â–€â–“â–ˆ</b></p>
<p style="top:2352px"><b style="left:24px">┼¢</b><b style="left:128px">VoMiT is now looking for:</b><b style="left:624px">┼®</b></p>
<p style="top:2368px"><b style="left:24px">┼¢</b><b style="left:624px">┼®</b></p>
<p style="top:2384px"><b style="left:24px">┼¢</b><b style="left:136px">1.50mbit+ EU dump site for release spreading.</b><b style="left:624px">┼®</b></p>
<p style="top:2400px"><b style="left:24px">┼¢</b><b style="left:136px">2.100mbit+ affil sites for XviD/DVDR.</b><b style="left:624px">┼®</b></p>
<p style="top:2416px"><b style="left:24px">┼¢</b><b style="left:136px">3.10mbit+ 100GB dumps for personal group use.</b><b style="left:624px">┼®</b></p>
<p style="top:2432px"><b style="left:24px">┼¢</b><b style="left:136px">4.US/EU pre DVD suppliers.</b><b style="left:624px">┼®</b></p>
<p style="top:2448px"><b style="left:24px">┼¢</b><b style="left:624px">┼®</b></p>
<p style="top:2464px"><b style="left:24px">┼¢</b><b style="left:128px">If u can help us with any of those, contact us at:</b><b style="left:624px">┼®</b></p>
<p style="top:2480px"><b style="left:24px">┼¢</b><b style="left:624px">┼®</b></p>
<p style="top:2496px"><b style="left:24px">┼¢</b><b style="left:416px">vomit@hush.ai</b><b style="left:624px">┼®</b></p>
<p style="top:2512px"><b style="left:24px">┼¢</b><b style="left:624px">┼®</b></p>
<p style="top:2528px"><b style="left:24px">┼¢</b><b style="left:256px">Have a nice day :P</b><b style="left:624px">┼®</b></p>
<p style="top:2544px"><b style="left:24px">┼¢</b><b style="left:624px">┼®</b></p>
<p style="top:2560px"><b style="left:24px">â–ˆâ–„ â–„â–„â–ˆâ–ˆâ–‘â–ˆâ–ˆâ–ˆâ–ˆâ–„â–„â–„â–„</b><b style="left:440px">â–ˆâ–ˆâ–ˆâ–ˆâ–ˆâ–ˆâ–ˆâ–ˆâ–ˆâ–ˆâ–ˆâ–ˆâ–ˆ â–ˆâ–ˆâ–ˆâ–ˆâ–„</b><b style="left:1112px">â–„â–„â–„â–„â–„â–ˆâ–ˆâ–‘â–ˆâ–ˆâ–ˆâ–ˆâ–„ â–„â–„</b></p>
<p style="top:2576px"><b style="left:24px">┼¢  â–ˆâ–ˆâ–‘â–ˆâ–ˆâ–ˆâ–ˆâ–ˆâ–ˆâ–ˆâ–ˆâ–€â–€</b><b style="left:440px">â–ˆâ–€â–„â–„â–„ â–ˆâ–ˆ â–ˆâ–ˆ</b><b style="left:672px">â–ˆâ–„â–„ â–„â–ˆâ–ˆ</b><b style="left:1008px">â–‘â–ˆâ–ˆâ–ˆâ–ˆâ–ˆâ–ˆâ–ˆâ–ˆâ–ˆâ–ˆ ┼®</b></p>
<p style="top:2592px"><b style="left:24px">â–„â–ˆâ–ˆâ–ˆâ–ˆâ–ˆâ–ˆâ–ˆâ–ˆâ–ˆâ–ˆâ–ˆâ–ˆ</b><b style="left:440px">â–ˆâ–ˆâ–ˆâ–ˆâ–ˆâ–„ â–ˆâ–ˆâ–ˆâ–ˆâ–ˆâ–ˆâ–ˆâ–ˆâ–ˆâ–ˆ</b><b style="left:736px">â–ˆâ–ˆâ–ˆ â–ˆâ–ˆâ–ˆâ–ˆ</b><b style="left:1096px">â–„â–„â–„â–ˆâ–ˆâ–ˆâ–ˆâ–ˆâ–ˆâ–ˆâ–ˆâ–ˆâ–ˆ</b></p>
<p style="top:2608px"><b style="left:24px">┼®â–ˆâ–ˆâ–‘â–“â–€ â–€â–€â–€â–€â–€â–€ â–„â–„â–„â–„â–„â–„â–„â–„â–„â–„â–„â–„â–„â–„â–„â–„â–„â–„â–„â–„â–„â–„â–„â–„â–„â–„â–„â–„â–„â–„â–„â–„â–„â–„â–„â–„â–„â–„â–„â–„â–„â–„â–„â–„â–„â–„</b><b style="left:1384px">â–€â–€â–€â–€â–€ â–€â–“â–ˆâ–ˆâ–ˆ┼¢</b></p>
<p style="top:2624px"><b style="left:24px">â–ˆâ–“â–€</b><b style="left:648px">â–€â–“â–ˆ</b></p>
<p style="top:2640px"><b style="left:24px">┼¢</b><b style="left:152px">JFKDVD DiAMOND CME iMBT DPiMP HNRDVD WRD DVDR</b><b style="left:624px">┼®</b></p>
<p style="top:2656px"><b style="left:24px">┼¢</b><b style="left:624px">┼®</b></p>
<p style="top:2672px"><b style="left:24px">┼¢</b><b style="left:152px">KART3LDVD HNR DoNE SAPHiRE IGUANA HLS FRAGMENT</b><b style="left:624px">┼®</b></p>
<p style="top:2688px"><b style="left:24px">┼¢</b><b style="left:624px">┼®</b></p>
<p style="top:2704px"><b style="left:24px">┼¢</b><b style="left:152px">HAGGiS JUMANJi SADPANDA CLUE FiCO VH-PROD TNAN</b><b style="left:624px">┼®</b></p>
<p style="top:2720px"><b style="left:24px">┼¢</b><b style="left:624px">┼®</b></p>
<p style="top:2736px"><b style="left:24px">┼¢ â–„â–„â–„â–„</b><b style="left:208px">â–„â–„â–„â–„â–„</b><b style="left:616px">â–„â–„â–„â–„â–„</b><b style="left:808px">â–„â–„â–„â–„ ┼®</b></p>
<p style="top:2752px"><b style="left:0px">â–„â–ˆâ–ˆâ–ˆâ–„â–„â–„â–‘â–ˆâ–ˆâ–ˆâ–ˆâ–„â–„â–„â–„â–ˆâ–ˆâ–ˆâ–ˆâ–ˆâ–ˆâ–ˆâ–ˆâ–ˆâ–ˆâ–ˆâ–ˆâ–ˆâ–ˆâ–ˆâ–ˆâ–ˆâ–ˆâ–ˆâ–ˆâ–ˆâ–ˆâ–ˆâ–ˆâ–ˆâ–ˆâ–ˆâ–ˆâ–ˆâ–ˆâ–ˆâ–ˆâ–ˆâ–ˆâ–ˆâ–ˆâ–ˆâ–ˆâ–ˆâ–‘â–ˆâ–ˆâ–ˆâ–ˆâ–„â–„â–„â–„â–„â–ˆâ–ˆâ–ˆâ–ˆâ–ˆâ–ˆâ–„â–„â–„â–ˆâ–ˆâ–ˆâ–ˆâ–ˆâ–ˆ</b></p>
<p style="top:2768px"><b style="left:16px">â–“â–‘â–ˆâ–ˆâ–ˆâ–ˆâ–ˆâ–ˆâ–ˆâ–ˆâ–ˆâ–ˆâ–ˆâ–ˆâ–ˆâ–ˆâ–ˆâ–ˆâ–ˆâ–“</b><b style="left:504px">Have you hugged your toilet today?</b><b style="left:784px">â–“â–‘â–ˆâ–ˆâ–ˆâ–ˆâ–ˆâ–ˆâ–ˆâ–ˆâ–ˆâ–ˆâ–ˆâ–ˆâ–ˆâ–ˆâ–ˆâ–ˆâ–ˆâ–ˆâ–ˆâ–ˆâ–ˆ</b></p>
<p style="top:2784px"><b style="left:24px">â–€â–€â–€â–“â–‘â–“â–ˆâ–ˆâ–ˆâ–ˆâ–ˆâ–ˆâ–ˆâ–ˆâ–ˆâ–‘â–„â–„â–„â–„â–„â–„â–„â–„â–„â–„â–„â–„â–„â–„â–„â–„â–„â–„â–„â–„â–„â–„â–„â–„â–„â–„â–„â–„â–„â–„â–„â–„â–„â–„â–‘â–ˆâ–ˆâ–ˆâ–ˆâ–ˆâ–ˆâ–ˆâ–“â–€â–€â–€â–ˆâ–ˆâ–ˆâ–ˆâ–ˆâ–“â–€â–€</b></p>
<p style="top:2800px"><b style="left:24px">:</b><b style="left:48px">â–€â–€â–€â–€â–€</b><b style="left:184px">â–€â–€â–€â–€â–€â–€â–€â–€â–€â–€â–€â–€â–€â–€â–€â–€â–€â–€â–€â–€â–€â–€â–€â–€â–€â–€â–€â–€â–€â–€â–€â–€â–€â–€â–€â–€â–€â–€â–€â–€â–€â–€â–€â–€â–€â–€â–€â–€â–€â–€</b><b style="left:1424px">â–€â–€â–€â–€â–€</b><b style="left:1544px">:</b></p>
<p style="top:2816px"><b style="left:24px">:.&gt; 2003 &lt;.:::..&gt;  Ascii unfortunately made by SlowBeat  &lt;.:::..&gt;  2010 &lt;.:</b></p>
</div>
<div id="g">Généré depuis le site  http://www.subsynchro.com</div>
</body></html>
